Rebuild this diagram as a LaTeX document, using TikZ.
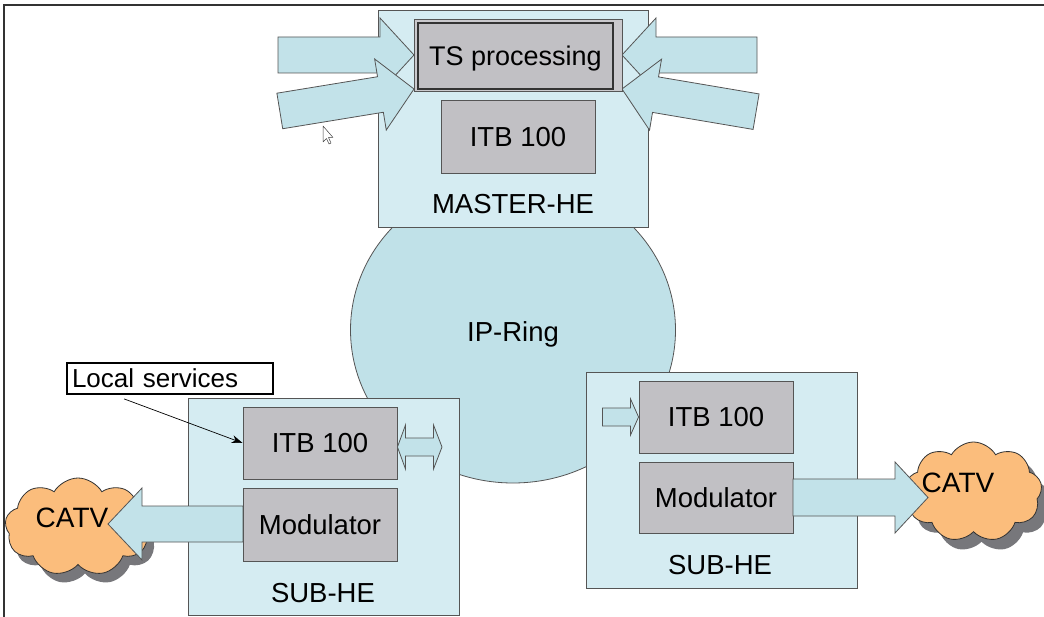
\documentclass[tikz,border=0pt]{standalone}
\usepackage{fontspec}
\setmainfont{Liberation Sans}
\usetikzlibrary{shapes.geometric,shapes.symbols,arrows.meta}
\definecolor{heblue}{HTML}{D5ECF2}
\definecolor{ringblue}{HTML}{C0E1E8}
\definecolor{arrblue}{HTML}{C2E2E9}
\definecolor{boxgray}{HTML}{C1C0C4}
\definecolor{lineg}{HTML}{555555}
\definecolor{cloudor}{HTML}{FBBD7C}
\definecolor{shadowg}{HTML}{77777B}
\definecolor{framec}{HTML}{333333}
\newcommand{\blkarrow}[7]{\draw[#7, shift={#1}, rotate=#2] (0,0) -- (-#4,-#5) -- (-#4,-#6) -- (-#3,-#6) -- (-#3,#6) -- (-#4,#6) -- (-#4,#5) -- cycle;}
\begin{document}
\begin{tikzpicture}[x=1pt,y=-1pt,
 hebox/.style={draw=lineg, fill=heblue, line width=0.9pt, inner sep=0pt},
 graybox/.style={draw=lineg, fill=boxgray, line width=0.9pt, inner sep=0pt, font=\fontsize{27.5}{33}\selectfont, text height=19.7pt, text depth=0pt},
 lbl/.style={inner sep=0pt, font=\fontsize{27.5}{33}\selectfont, text height=19.7pt, text depth=0pt},
 blockarr/.style={draw=lineg, fill=arrblue, line width=0.8pt, line join=miter},
 cloudnode/.style={cloud, cloud puffs=9, cloud puff arc=120, aspect=1.45, draw=black!80, fill=cloudor, line width=0.8pt, inner sep=0pt},
 cloudshadow/.style={cloud, cloud puffs=9, cloud puff arc=120, aspect=1.45, fill=shadowg, inner sep=0pt}
]
\useasboundingbox (0,0) rectangle (1044,617);
\fill[white] (0,0) rectangle (1044,617);
% frame
\draw[framec, line width=2.5pt] (4,617) -- (4,5) -- (1044,5);

% IP ring
\node (ring) [ellipse, draw=lineg, fill=ringblue, line width=0.8pt, minimum width=325, minimum height=306, inner sep=0pt] at (513,330) {};
\node (ringlbl) [lbl] at (513,332) {IP-Ring};

% master head end
\node (master) [hebox, minimum width=270, minimum height=217] at (513,119) {};
\blkarrow{(414,55)}{0}{136}{34}{37}{18}{blockarr}
\blkarrow{(414,89)}{9.3}{136}{34}{36}{18}{blockarr}
\blkarrow{(622,55)}{180}{135}{34}{37}{18}{blockarr}
\blkarrow{(622,89)}{170.4}{136}{34}{36}{18}{blockarr}
\node (tsouter) [draw=lineg, fill=boxgray!85!white, line width=0.9pt, minimum width=208, minimum height=72, inner sep=0pt] at (518,55) {};
\node (ts) [draw=framec, fill=boxgray, line width=2.2pt, minimum width=195, minimum height=66, inner sep=0pt, font=\fontsize{27}{33}\selectfont, text height=19.4pt, text depth=0pt] at (515.5,56) {TS processing};
\node (mitb) [graybox, minimum width=154, minimum height=73] at (518,136.5) {ITB 100};
\node (masterlbl) [lbl] at (513,204) {MASTER-HE};

% cursor
\draw[black!75, fill=white, line width=0.5pt, line join=round] (323,126) -- (323,142) -- (326.5,138.5) -- (329,144) -- (331,143) -- (328.5,137.5) -- (333,137.5) -- cycle;

% left sub head end
\node (lsub) [hebox, minimum width=271, minimum height=217] at (323.5,506.5) {};
\node (lcloudsh) [cloudshadow, minimum width=146, minimum height=98] at (85,536) {};
\node (lcloud) [cloudnode, minimum width=146, minimum height=98] at (78,527) {};
\node (lcatv) [lbl, font=\fontsize{28}{33}\selectfont, text height=20pt] at (72,517) {CATV};
\blkarrow{(108,524)}{180}{135}{34}{36}{18}{blockarr}
\node (litb) [graybox, minimum width=154, minimum height=72] at (320,443) {ITB 100};
\node (lmod) [graybox, minimum width=154, minimum height=73] at (320,524.5) {Modulator};
\node (lsublbl) [lbl] at (323,593) {SUB-HE};
\draw[blockarr] (litb.east) ++(0,4) coordinate (dA) (dA) -- (405.5,425) -- (405.5,438) -- (433.5,438) -- (433.5,425) -- (442,447) -- (433.5,469) -- (433.5,456) -- (405.5,456) -- (405.5,469) -- cycle;

% local services
\node (ls) [draw=black, line width=1.8pt, fill=white, minimum height=31, text width=196, inner sep=5pt, align=left, font=\fontsize{26}{30}\selectfont, text height=18.6pt, text depth=0pt] at (170,378.5) {Local services};
\draw[black, line width=0.7pt, -{Stealth[length=11pt,width=8pt]}] ([shift={(58,4)}]ls.south west) -- (litb.west);

% right sub head end
\node (rsub) [hebox, minimum width=271, minimum height=216] at (721.5,480) {};
\node (rcloudsh) [cloudshadow, minimum width=137, minimum height=100] at (981.5,502) {};
\node (rcloud) [cloudnode, minimum width=137, minimum height=100] at (973.5,492) {};
\node (rcatv) [lbl, font=\fontsize{28}{33}\selectfont, text height=20pt] at (958,482) {CATV};
\node (ritb) [graybox, minimum width=154, minimum height=72] at (716,417) {ITB 100};
\node (rmod) [graybox, minimum width=154, minimum height=71] at (716,497.5) {Modulator};
\blkarrow{(ritb.west)}{0}{36}{8}{18}{9}{blockarr}
\blkarrow{(928,497.5)}{0}{135}{33}{35.5}{18.5}{blockarr}
\node (rsublbl) [lbl] at (720,565) {SUB-HE};
\end{tikzpicture}
\end{document}
